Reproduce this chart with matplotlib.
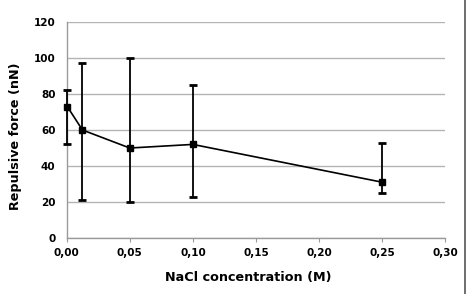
import matplotlib
matplotlib.use("Agg")
import matplotlib.pyplot as plt
from matplotlib.lines import Line2D

# Data
nacl = [0.0005, 0.0125, 0.05, 0.10, 0.25]
force = [73, 60, 50, 52, 31]
err_low = [52, 21, 20, 23, 25]
err_high = [82, 97, 100, 85, 53]
x_ticks = [0.00, 0.05, 0.10, 0.15, 0.20, 0.25, 0.30]
x_ticklabels = ["0,00", "0,05", "0,10", "0,15", "0,20", "0,25", "0,30"]
y_ticks = [0, 20, 40, 60, 80, 100, 120]

fig = plt.figure(figsize=(4.68, 2.94), dpi=100)
ax = fig.add_axes([0.1425, 0.1905, 0.809, 0.7345])

yerr = [[f - lo for f, lo in zip(force, err_low)], [hi - f for f, hi in zip(force, err_high)]]
ax.errorbar(nacl, force, yerr=yerr, fmt='s-', color='black', ms=5, lw=1.2,
            elinewidth=1.3, capsize=2.8, capthick=2, clip_on=False, zorder=3)

ax.set_xlim(0, 0.30)
ax.set_ylim(0, 120)
ax.set_xticks(x_ticks)
ax.set_xticklabels(x_ticklabels)
ax.set_yticks(y_ticks)

for lbl in ax.get_xticklabels() + ax.get_yticklabels():
    lbl.set_fontweight('bold')
    lbl.set_fontsize(7.5)

ax.grid(axis='y', color='#b4b4b4', lw=1)
ax.set_axisbelow(True)
for s in ['top', 'right']:
    ax.spines[s].set_visible(False)
for s in ['left', 'bottom']:
    ax.spines[s].set_color('#9a9a9a')
    ax.spines[s].set_linewidth(1)
ax.tick_params(axis='y', length=0, pad=8)
ax.tick_params(axis='x', length=3, color='#9a9a9a', pad=4, direction='out')

ax.set_xlabel("NaCl concentration (M)", fontsize=9.2, fontweight='bold')
ax.set_ylabel("Repulsive force (nN)", fontsize=9.2, fontweight='bold')
ax.xaxis.set_label_coords(0.48, -0.155)
ax.yaxis.set_label_coords(-0.118, 0.472)

fig.add_artist(Line2D([0.9945, 0.9945], [0, 1], transform=fig.transFigure, color='#555555', lw=1.2))

fig.savefig("out.png", dpi=100)
